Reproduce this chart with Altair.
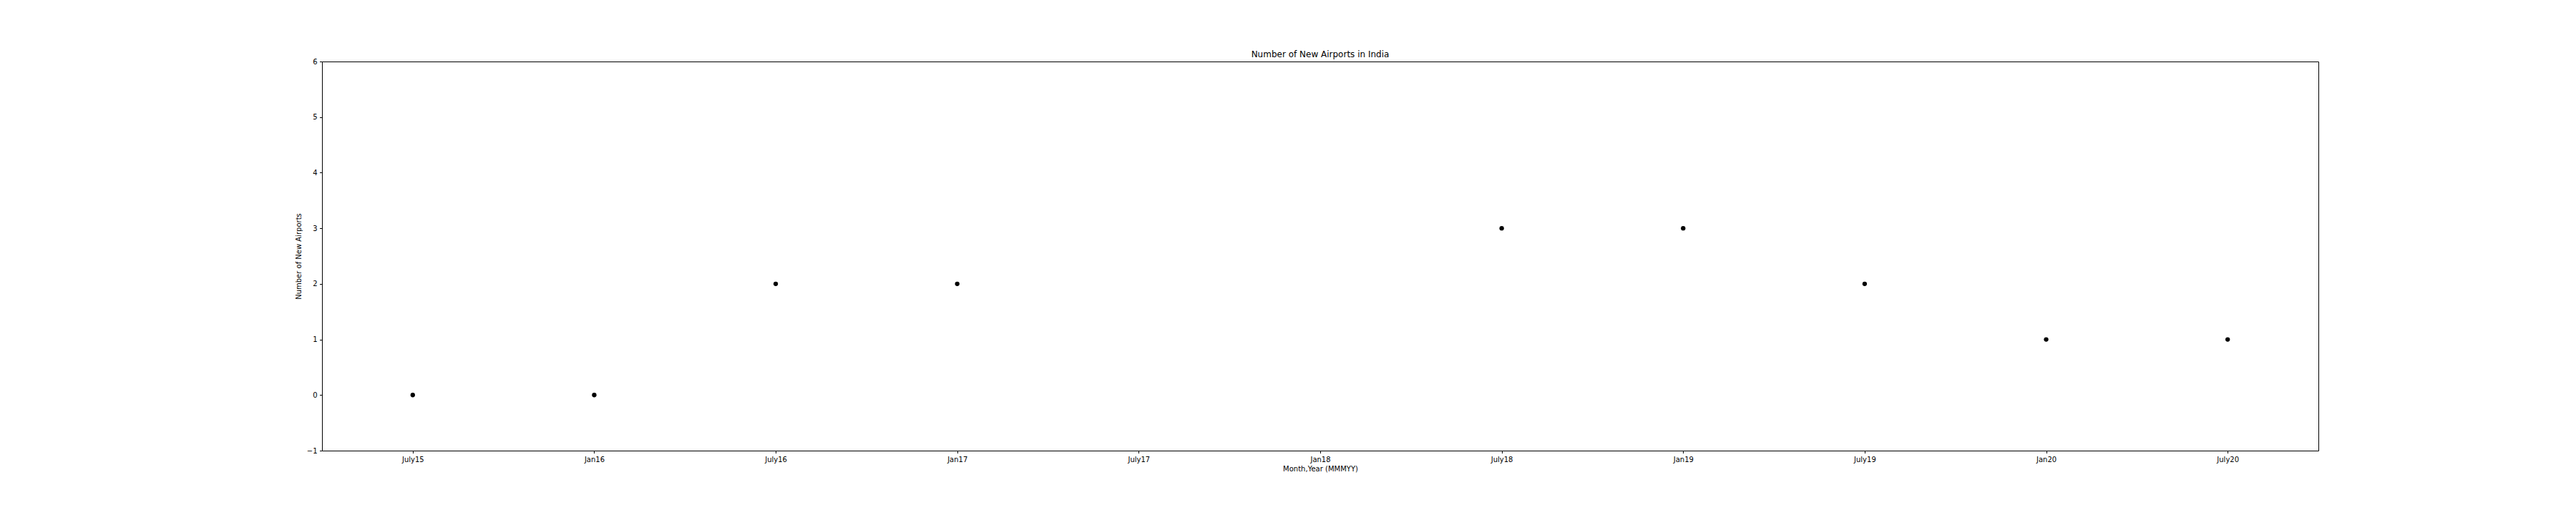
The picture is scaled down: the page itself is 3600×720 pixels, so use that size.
import altair as alt
import pandas as pd

months = ["July15", "Jan16", "July16", "Jan17", "July17", "Jan18",
          "July18", "Jan19", "July19", "Jan20", "July20"]
new_airports = [0, 0, 2, 2, None, None, 3, 3, 2, 1, 1]

df = pd.DataFrame({"month": months, "count": new_airports})

FONT = "DejaVu Sans"

xscale = alt.Scale(domain=months, type="point", padding=0.5)
yscale = alt.Scale(domain=[-1, 6], nice=False, zero=False)

common = dict(grid=False, domainColor="black", tickColor="black",
              labelColor="black", titleColor="black",
              labelFontSize=10, titleFontSize=10, titleFontWeight="normal",
              labelFont=FONT, titleFont=FONT, domainWidth=1)

base = alt.Chart(df).transform_filter("isValid(datum.count)")

points = base.mark_point(
    filled=True, color="black", size=40, opacity=1
).encode(
    x=alt.X("month:N", sort=months, scale=xscale,
            axis=alt.Axis(title="Month,Year (MMMYY)", labelAngle=0,
                          tickSize=3.5, labelPadding=3.5, titlePadding=3,
                          **common)),
    y=alt.Y("count:Q", scale=yscale,
            axis=alt.Axis(title="Number of New Airports", values=list(range(-1, 7)),
                          tickSize=3.5, labelPadding=3.5, titlePadding=6,
                          **common)),
)

frame = base.mark_point(opacity=0).encode(
    x=alt.X("month:N", sort=months, scale=xscale,
            axis=alt.Axis(orient="top", title=None, labels=False, ticks=False,
                          **common)),
    y=alt.Y("count:Q", scale=yscale,
            axis=alt.Axis(orient="right", title=None, labels=False, ticks=False,
                          **common)),
)

chart = alt.layer(points, frame).resolve_axis(
    x="independent", y="independent"
).properties(
    width=2790, height=544,
    title=alt.TitleParams("Number of New Airports in India", fontSize=12,
                          font=FONT, fontWeight="normal", color="black",
                          anchor="middle", baseline="alphabetic", offset=-11),
    autosize=alt.AutoSizeParams(type="none"),
    padding={"left": 442, "top": 78, "right": 352, "bottom": 82},
).configure_view(
    stroke=None
).configure(background="white")

chart.save("out.html", embed_options={"renderer": "svg", "actions": False})
